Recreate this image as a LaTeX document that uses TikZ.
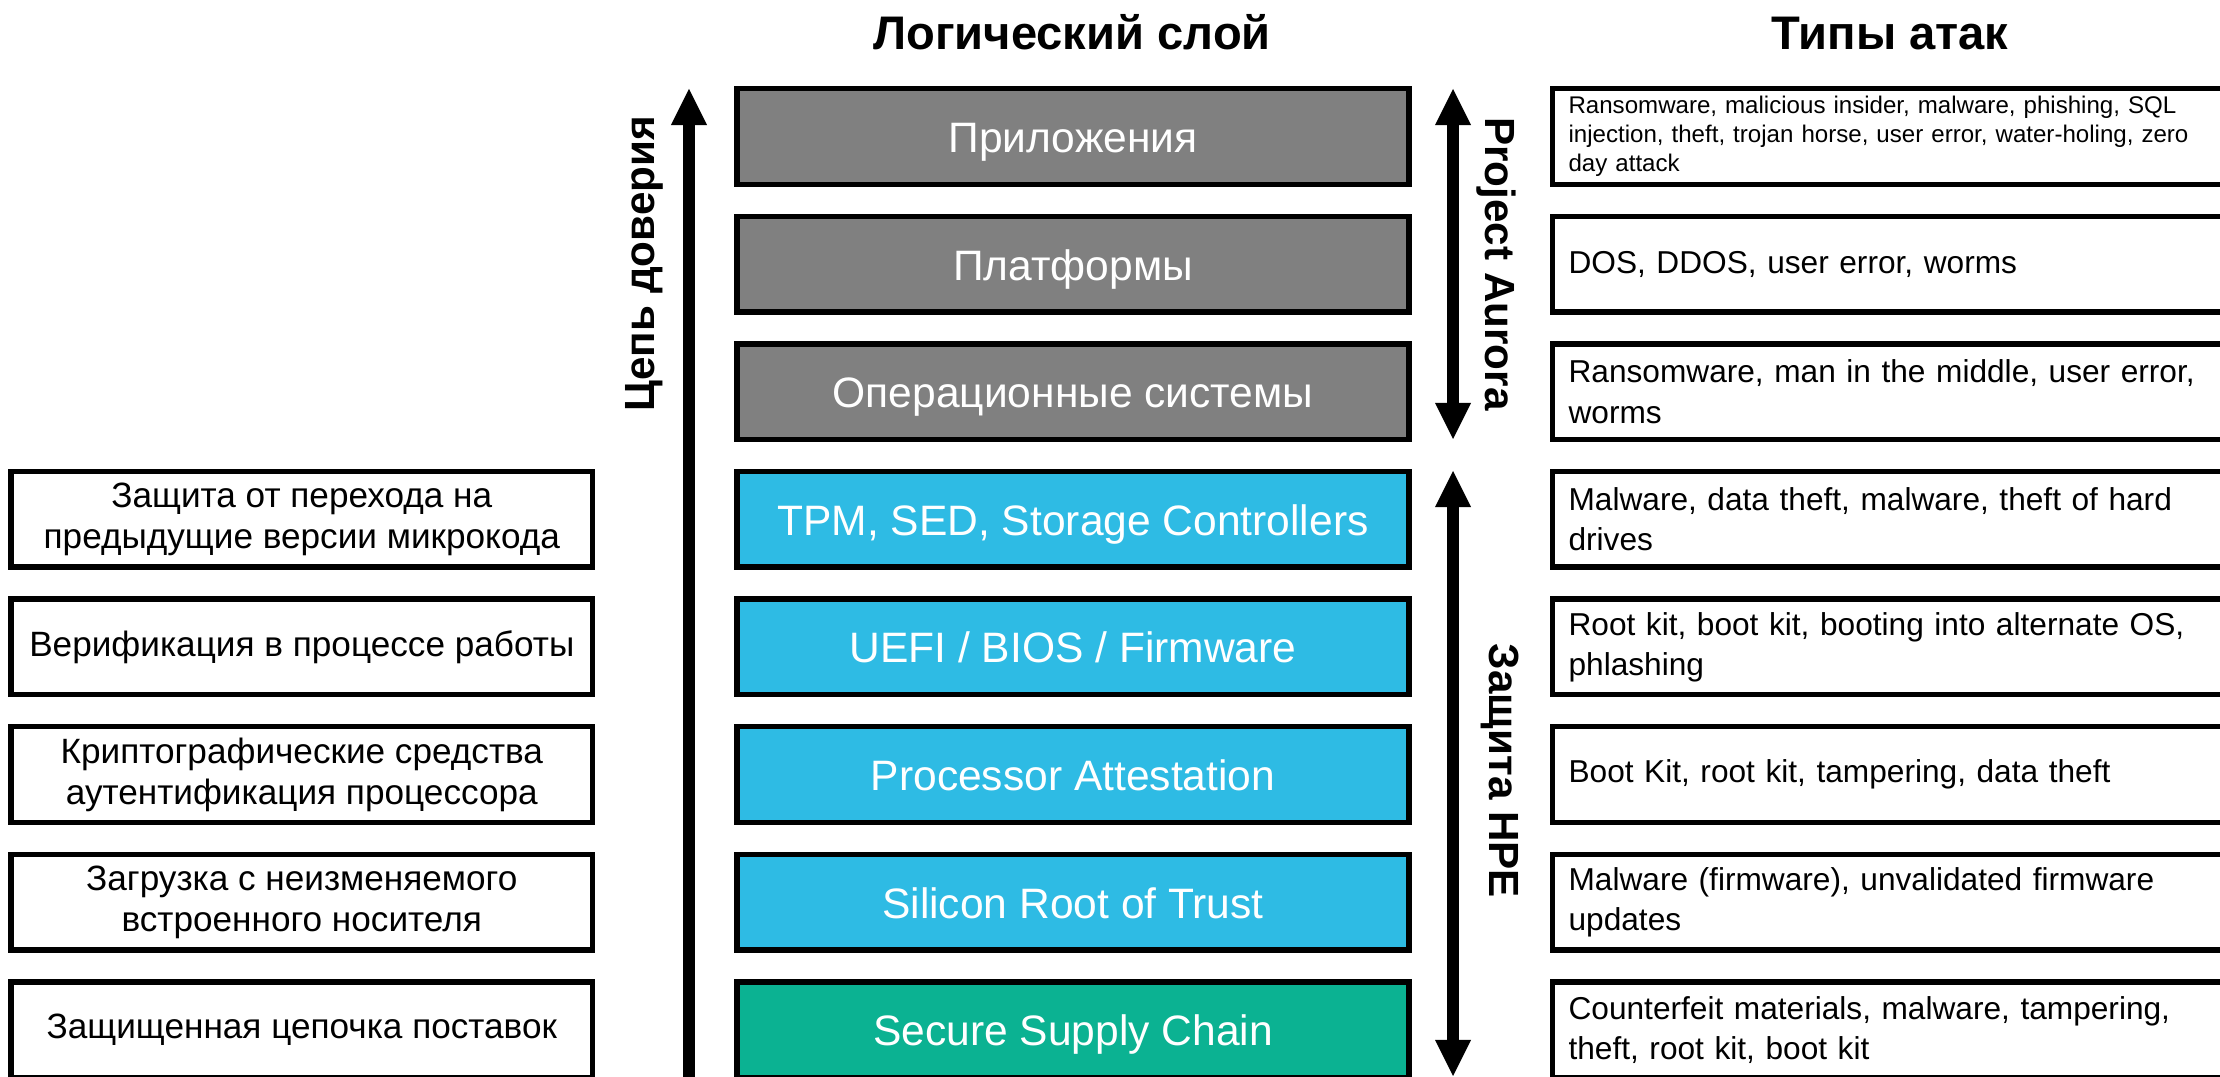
\documentclass[tikz,border=0pt]{standalone}
\usepackage{fontspec}
\setmainfont{Liberation Sans}
\usetikzlibrary{arrows.meta}
\definecolor{layer_gray}{RGB}{128,128,128}
\definecolor{layer_blue}{RGB}{46,187,228}
\definecolor{layer_green}{RGB}{11,178,146}

\begin{document}
\begin{tikzpicture}[x=0.01cm,y=-0.01cm,>={Triangle[length=0.36cm,width=0.36cm,line width=0pt]}]
    \tikzstyle{box}=[draw=black, line width=0.055cm, inner sep=0pt, minimum height=0.955cm]
    \tikzstyle{layer}=[style=box, minimum width=6.715cm, text=white, font=\fontsize{12.1}{14.5}\selectfont, text height=9.1pt, text depth=0pt]
    \tikzstyle{sw}=[style=layer, fill=layer_gray]
    \tikzstyle{hw}=[style=layer, fill=layer_blue]
    \tikzstyle{sc}=[style=layer, fill=layer_green]
    \tikzstyle{feat}=[style=box, fill=white, minimum width=5.81cm, align=center, font=\fontsize{10}{11.7}\selectfont]
    \tikzstyle{atk}=[style=box, fill=white, minimum width=6.97cm, text width=6.65cm, align=left, font=\fontsize{9}{11.4}\selectfont]
    \tikzstyle{head}=[font=\bfseries\fontsize{13.4}{16}\selectfont, anchor=base]
    \tikzstyle{side}=[font=\bfseries\fontsize{12}{14}\selectfont]
    \tikzstyle{big}=[line width=0.12cm]

    \clip (0,0) rectangle (2220,1077);

    \node[head] (logic) at (1072,50) {Логический слой};
    \node[head] (types) at (1890,50) {Типы атак};

    % logical layers
    \node[sw] (app)  at (1073,136.5)  {Приложения};
    \node[sw] (plat) at (1073,264.1)  {Платформы};
    \node[sw] (os)   at (1073,391.7)  {Операционные системы};
    \node[hw] (tpm)  at (1073,519.3)  {TPM, SED, Storage Controllers};
    \node[hw] (uefi) at (1073,646.9)  {UEFI / BIOS / Firmware};
    \node[hw] (proc) at (1073,774.5)  {Processor Attestation};
    \node[hw] (srot) at (1073,902.1)  {Silicon Root of Trust};
    \node[sc] (ssc)  at (1073,1029.7) {Secure Supply Chain};

    % HPE features
    \node[feat] (rollback) at (301.75,519.3)  {Защита от перехода на\\предыдущие версии микрокода};
    \node[feat] (runtime)  at (301.75,646.9)  {Верификация в процессе работы};
    \node[feat] (crypto)   at (301.75,774.5)  {Криптографические средства\\аутентификация процессора};
    \node[feat] (boot)     at (301.75,902.1)  {Загрузка с неизменяемого\\встроенного носителя};
    \node[feat] (supply)   at (301.75,1029.7) {Защищенная цепочка поставок};

    % attack types
    \node[atk,font=\fontsize{6.85}{8.25}\selectfont] (atk_app) at (1901.25,136.5) {Ransomware, malicious insider, malware, phishing, SQL\\injection, theft, trojan horse, user error, water-holing, zero\\day attack};
    \node[atk] (atk_plat) at (1901.25,264.1)  {DOS, DDOS, user error, worms};
    \node[atk] (atk_os)   at (1901.25,391.7)  {Ransomware, man in the middle, user error,\\worms};
    \node[atk] (atk_tpm)  at (1901.25,519.3)  {Malware, data theft, malware, theft of hard\\drives};
    \node[atk] (atk_uefi) at (1901.25,646.9)  {Root kit, boot kit, booting into alternate OS,\\phlashing};
    \node[atk] (atk_proc) at (1901.25,774.5)  {Boot Kit, root kit, tampering, data theft};
    \node[atk] (atk_srot) at (1901.25,902.1)  {Malware (firmware), unvalidated firmware\\updates};
    \node[atk] (atk_ssc)  at (1901.25,1029.7) {Counterfeit materials, malware, tampering,\\theft, root kit, boot kit};

    % arrows
    \coordinate (chain_top) at (689,89);
    \coordinate (chain_bot) at (689,1100);
    \coordinate (aur_top) at (1453,89);
    \coordinate (aur_bot) at (1453,439);
    \coordinate (hpe_top) at (1453,471);
    \coordinate (hpe_bot) at (1453,1076);
    \path
     (chain_bot) edge[big,->] (chain_top)
     (aur_top) edge[big,<->] (aur_bot)
     (hpe_top) edge[big,<->] (hpe_bot)
     ;

    \node[side,rotate=90]  (chain)  at (644,264)  {Цепь доверия};
    \node[side,rotate=-90] (aurora) at (1496,264) {Project Aurora};
    \node[side,rotate=-90] (hpe)    at (1500,771) {Защита HPE};
\end{tikzpicture}
\end{document}
